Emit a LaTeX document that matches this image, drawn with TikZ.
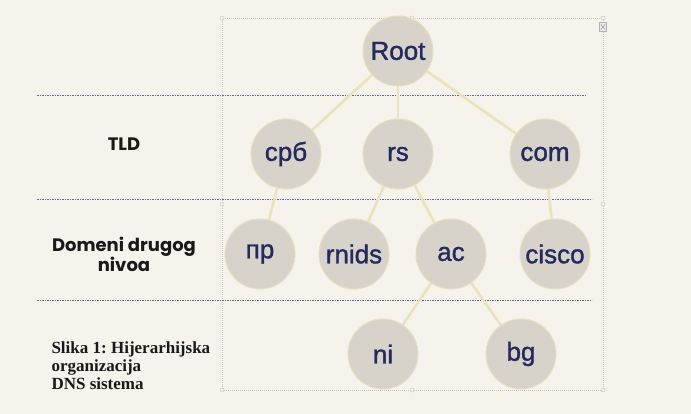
\documentclass[tikz,border=0pt]{standalone}
\usepackage{fontspec}
\setmainfont{Liberation Sans}
\newfontfamily\nodefont[FakeBold=1.3]{Liberation Sans}
\newfontfamily\labfont{Poppins}
\newfontfamily\capfont{Liberation Serif}
\pgfdeclarelayer{back}
\pgfdeclarelayer{edges}
\pgfsetlayers{back,edges,main}
\definecolor{bgc}{HTML}{F5F3EC}
\definecolor{circfill}{HTML}{D8D3CA}
\definecolor{circedge}{HTML}{E6DFC0}
\definecolor{edgec}{HTML}{EAE3BA}
\definecolor{navy}{HTML}{232A5E}
\definecolor{dashc}{HTML}{6A6590}
\definecolor{framec}{HTML}{C9C6C0}
\tikzset{
  dom/.style={circle, fill=circfill, draw=circedge, line width=1pt, minimum size=70pt, inner sep=0pt,
    text=navy, font=\nodefont\fontsize{26}{28}\selectfont},
  conn/.style={draw=edgec, line width=2.6pt},
  sep/.style={draw=dashc, line width=0.9pt, dash pattern=on 1.6pt off 0.9pt},
  frame/.style={draw=framec, line width=0.6pt, dash pattern=on 1pt off 1pt},
  handle/.style={circle, draw=framec, fill=bgc, line width=0.5pt, minimum size=4pt, inner sep=0pt},
  lab/.style={font=\labfont\bfseries\fontsize{18}{20}\selectfont, text=black!90, align=center},
  capt/.style={font=\capfont\bfseries\fontsize{17}{18}\selectfont, text=black!90, align=left, anchor=north west}
}
\begin{document}
\frenchspacing
\begin{tikzpicture}[x=1pt,y=-1pt]
\begin{pgfonlayer}{back}
\fill[bgc] (0,0) rectangle (691,414);
\useasboundingbox (0,0) rectangle (691,414);
\draw[frame] (222,18) rectangle (603,390);
\foreach \p/\n in {{(222,18)}/h1,{(412,18)}/h2,{(603,18)}/h3,{(222,204)}/h4,{(603,204)}/h5,{(222,390)}/h6,{(412,390)}/h7,{(603,390)}/h8}
  \node[handle] (\n) at \p {};
\coordinate (s1a) at (37,95);  \coordinate (s1b) at (586,95);
\coordinate (s2a) at (37,199); \coordinate (s2b) at (592,199);
\coordinate (s3a) at (37,300); \coordinate (s3b) at (592,300);
\draw[sep] (s1a) -- (s1b);
\draw[sep] (s2a) -- (s2b);
\draw[sep] (s3a) -- (s3b);
\end{pgfonlayer}

\node[dom] (root) at (398,51) {Root};
\node[dom] (srb) at (286,154) {срб};
\node[dom] (rs) at (398,154) {rs};
\node[dom] (com) at (545,154) {com};
\node[dom] (np) at (260,254) {пр};
\node[dom] (rnids) at (354,254) {rnids};
\node[dom] (ac) at (451,254) {ac};
\node[dom] (cisco) at (555,254) {cisco};
\node[dom] (ni) at (383,354) {ni};
\node[dom] (bg) at (521,354) {bg};

\begin{pgfonlayer}{edges}
\draw[conn] (root) -- (srb);
\draw[conn] (root) -- (rs);
\draw[conn] (root) -- (com);
\draw[conn] (srb) -- (np);
\draw[conn] (rs) -- (rnids);
\draw[conn] (rs) -- (ac);
\draw[conn] (com) -- (cisco);
\draw[conn] (ac) -- (ni);
\draw[conn] (ac) -- (bg);
\end{pgfonlayer}

\node[lab] (tld) at (124,144) {TLD};
\node[lab] (dd) at (124,254) {Domeni drugog\\nivoa};
\node[capt] (cap) at (48,338) {Slika 1: Hijerarhijska\\organizacija\\DNS sistema};

\node[draw=gray!60, fill=gray!15, line width=0.4pt, minimum width=7pt, minimum height=9pt, inner sep=0pt] (icon) at (603,27) {};
\draw[gray!70, line width=0.6pt] (icon.north west) ++(1.5pt,-2pt) -- ([xshift=-1.5pt,yshift=2pt]icon.south east);
\draw[gray!70, line width=0.6pt] (icon.north east) ++(-1.5pt,-2pt) -- ([xshift=1.5pt,yshift=2pt]icon.south west);
\end{tikzpicture}
\end{document}
